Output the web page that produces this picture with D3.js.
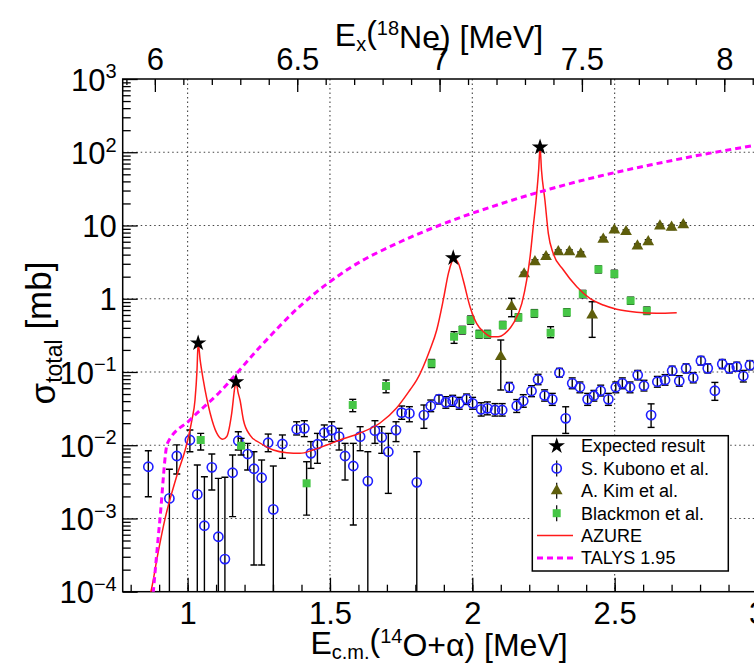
<!DOCTYPE html>
<html>
<head>
<meta charset="utf-8">
<script src="https://cdn.jsdelivr.net/npm/d3@7"></script>
<style>
  body { margin: 0; background: #fff; }
  text { font-family: "Liberation Sans", Arial, Helvetica, sans-serif; fill: #000; }
</style>
</head>
<body>
<div id="chart"></div>
<script>
// values: E_cm in MeV, sigma in mb

// expected result (stars)
var starE = [1.037, 1.170, 1.933, 2.238];
var starS = [0.248, 0.073, 3.6, 117];

// S. Kubono et al. (open circles), lo/hi = error bar ends
var kubonoE = [0.862, 0.936, 0.962, 1.008, 1.034, 1.059, 1.085, 1.108, 1.131, 1.158,
	1.178, 1.211, 1.233, 1.260, 1.283, 1.301, 1.333, 1.383, 1.410, 1.433,
	1.456, 1.480, 1.506, 1.532, 1.553, 1.582, 1.606, 1.633, 1.658, 1.682,
	1.705, 1.732, 1.752, 1.779, 1.805, 1.830, 1.854, 1.883, 1.907, 1.931,
	1.954, 1.980, 2.001, 2.031, 2.053, 2.080, 2.105, 2.130, 2.156, 2.179,
	2.208, 2.231, 2.254, 2.281, 2.306, 2.328, 2.351, 2.378, 2.405, 2.427,
	2.451, 2.478, 2.504, 2.527, 2.554, 2.581, 2.603, 2.628, 2.650, 2.677,
	2.702, 2.727, 2.751, 2.776, 2.803, 2.827, 2.852, 2.878, 2.903, 2.929,
	2.952, 2.975];
var kubonoS = [0.00508, 0.00188, 0.00712, 0.0118, 0.00213, 0.000796, 0.00499, 0.000563, 0.000279, 0.00421,
	0.0115, 0.00758, 0.00477, 0.0036, 0.0108, 0.00133, 0.0104, 0.0165, 0.017, 0.00775,
	0.0103, 0.0148, 0.0161, 0.0131, 0.00712, 0.0052, 0.0131, 0.00324, 0.0158, 0.0128,
	0.00815, 0.0161, 0.0278, 0.0272, 0.00311, 0.0258, 0.0343, 0.0427, 0.0385, 0.0405,
	0.0373, 0.0427, 0.0373, 0.0309, 0.0319, 0.0303, 0.0303, 0.0618, 0.0346, 0.0401,
	0.0549, 0.0788, 0.0477, 0.0423, 0.0977, 0.0233, 0.07, 0.0618, 0.0423, 0.0474,
	0.0554, 0.0423, 0.0618, 0.07, 0.0618, 0.0908, 0.0649, 0.0258, 0.0736, 0.0777,
	0.104, 0.0752, 0.112, 0.0835, 0.1425, 0.112, 0.0554, 0.1285, 0.112, 0.118,
	0.088, 0.124];
var kubonoLo = [0.00198, 1e-5, 0.00404, 0.00815, 1e-5, 1e-5, 0.00245, 1e-5, 1e-5, 0.00106,
	0.0086, 0.00459, 0.000231, 0.000231, 0.00815, 1e-5, 0.00662, 0.0138, 0.0131, 0.00483,
	0.00566, 0.0118, 0.0112, 0.0086, 0.00335, 0.000813, 0.00841, 1e-5, 0.0106, 0.00775,
	0.0022, 0.0112, 0.0226, 0.0209, 1e-5, 0.017, 0.0287, 0.0365, 0.032, 0.034,
	0.031, 0.036, 0.031, 0.025, 0.026, 0.025, 0.025, 0.053, 0.028, 0.033,
	0.046, 0.067, 0.04, 0.035, 0.085, 0.0145, 0.059, 0.052, 0.035, 0.04,
	0.047, 0.035, 0.052, 0.059, 0.052, 0.078, 0.055, 0.0175, 0.062, 0.066,
	0.09, 0.064, 0.097, 0.071, 0.124, 0.097, 0.041, 0.111, 0.097, 0.102,
	0.073, 0.107];
var kubonoHi = [0.00841, 0.00469, 0.0101, 0.0161, 0.00536, 0.00371, 0.00758, 0.00353, 0.00365, 0.00735,
	0.0153, 0.0106, 0.00815, 0.00628, 0.0142, 0.0052, 0.0138, 0.0209, 0.0216, 0.0112,
	0.0145, 0.0189, 0.0209, 0.017, 0.0106, 0.0106, 0.0179, 0.00815, 0.0216, 0.0179,
	0.0145, 0.0209, 0.0343, 0.0336, 0.00815, 0.0354, 0.0414, 0.0484, 0.046, 0.048,
	0.045, 0.05, 0.045, 0.038, 0.039, 0.037, 0.037, 0.072, 0.042, 0.049,
	0.065, 0.093, 0.057, 0.051, 0.112, 0.0335, 0.083, 0.073, 0.051, 0.056,
	0.066, 0.051, 0.073, 0.083, 0.073, 0.105, 0.077, 0.0367, 0.087, 0.092,
	0.12, 0.089, 0.129, 0.098, 0.163, 0.129, 0.072, 0.148, 0.129, 0.136,
	0.105, 0.143];

// A. Kim et al. (triangles)
var kimE = [2.100, 2.138, 2.182, 2.220, 2.259, 2.302, 2.341, 2.381, 2.421, 2.460,
	2.499, 2.540, 2.580, 2.618, 2.659, 2.700, 2.741];
var kimS = [0.1615, 0.778, 2.18, 3.20, 3.75, 4.38, 4.38, 4.08, 0.600, 6.48,
	8.67, 8.22, 5.25, 6.0, 9.84, 9.44, 10.2];
var kimLo = [0.0567, 0.568, 2.05, 3.0, 3.5, 4.1, 4.1, 3.8, 0.297, 6.1,
	8.1, 7.7, 4.9, 5.6, 9.2, 8.8, 9.5];
var kimHi = [0.273, 1.013, 2.3, 3.4, 4.0, 4.65, 4.65, 4.35, 0.91, 6.9,
	9.2, 8.7, 5.6, 6.4, 10.5, 10.1, 10.9];

// Blackmon et al. (squares)
var blackmonE = [1.046, 1.188, 1.418, 1.580, 1.697, 1.857, 1.936, 1.965, 1.994, 2.024,
	2.053, 2.107, 2.162, 2.218, 2.275, 2.332, 2.388, 2.443, 2.499, 2.556, 2.613];
var blackmonS = [0.0118, 0.00984, 0.00302, 0.0354, 0.0643, 0.131, 0.303, 0.374, 0.512, 0.327,
	0.327, 0.437, 0.557, 0.632, 0.343, 0.653, 1.16, 2.52, 2.18, 0.94, 0.686];
var blackmonLo = [0.0086, 0.00735, 0.00111, 0.0287, 0.052, 0.115, 0.246, 0.33, 0.45, 0.29,
	0.29, 0.39, 0.5, 0.56, 0.294, 0.58, 1.03, 2.25, 1.95, 0.84, 0.61];
var blackmonHi = [0.0145, 0.0124, 0.00595, 0.0423, 0.0777, 0.148, 0.355, 0.42, 0.58, 0.37,
	0.37, 0.49, 0.62, 0.71, 0.415, 0.73, 1.3, 2.8, 2.45, 1.05, 0.77];

// AZURE curve
var azureE = [0.862, 0.871, 0.895, 0.921, 0.960, 0.997, 1.015, 1.026, 1.033, 1.037,
	1.044, 1.055, 1.079, 1.102, 1.123, 1.137, 1.155, 1.166, 1.170, 1.177,
	1.184, 1.196, 1.219, 1.254, 1.301, 1.348, 1.395, 1.440, 1.489, 1.535,
	1.606, 1.676, 1.734, 1.781, 1.805, 1.851, 1.875, 1.898, 1.916, 1.928,
	1.933, 1.951, 1.968, 1.992, 2.015, 2.039, 2.068, 2.091, 2.115, 2.144,
	2.174, 2.191, 2.203, 2.214, 2.224, 2.233, 2.238, 2.243, 2.255, 2.267,
	2.284, 2.320, 2.367, 2.413, 2.460, 2.507, 2.577, 2.648, 2.718];
var azureS = [7.5e-5, 1.0e-4, 3.2e-4, 1.0e-3, 3.6e-3, 0.0104, 0.022, 0.0414, 0.106, 0.248,
	0.146, 0.0777, 0.0275, 0.0147, 0.01205, 0.01306, 0.0275, 0.0624, 0.073, 0.0532,
	0.0414, 0.0221, 0.01377, 0.01072, 0.00859, 0.0079, 0.00775, 0.00859, 0.01007, 0.01178,
	0.0147, 0.0201, 0.0322, 0.0567, 0.0777, 0.1995, 0.374, 0.962, 2.22, 3.20,
	3.56, 3.05, 1.80, 0.778, 0.461, 0.355, 0.303, 0.303, 0.337, 0.461,
	0.865, 1.80, 3.75, 9.62, 22.3, 57.2, 117, 57.2, 22.3, 7.82,
	4.17, 2.47, 1.46, 1.01, 0.82, 0.718, 0.653, 0.632, 0.643];

// TALYS 1.95 curve
var talysE = [0.876, 0.903, 0.929, 1.008, 1.114, 1.254, 1.395, 1.570, 1.746, 1.887,
	2.097, 2.273, 2.449, 2.624, 2.800, 3.0];
var talysS = [7e-5, 1.0e-3, 0.0106, 0.0221, 0.0537, 0.219, 0.795, 2.63, 5.95, 10.15,
	19.6, 31.5, 47.4, 66.9, 91.7, 125.6];

// axis ticks
var xMajor = [1, 1.5, 2, 2.5, 3];
var xMinor = d3.range(8, 31).map(d => d / 10);
var exMajor = [6, 6.5, 7, 7.5, 8];
var exMinor = d3.range(59, 82).map(d => d / 10);
var yDecades = [1e-4, 1e-3, 1e-2, 1e-1, 1, 10, 1e2, 1e3];
var yLabels = [["10", "\u22124"], ["10", "\u22123"], ["10", "\u22122"], ["10", "\u22121"],
	["1", ""], ["10", ""], ["10", "2"], ["10", "3"]];
var qValue = 5.115; // Ex(18Ne) = Ecm + Q

var legendNames = ["Expected result", "S. Kubono et al.", "A. Kim et al.", "Blackmon et al.", "AZURE", "TALYS 1.95"];

function drawChart(sel) {
	let width = 754, height = 666;
	let left = 122.7, right = 757, top = 79, bottom = 591.7;

	var svg = d3.select(sel).append("svg")
		.attr("width", width)
		.attr("height", height)
		.attr("viewBox", [0, 0, width, height]);

	var x = d3.scaleLinear().domain([0.772, 3.0]).range([left, right]);
	var xEx = d3.scaleLinear().domain([0.772 + qValue, 3.0 + qValue]).range([left, right]);
	var y = d3.scaleLog().domain([1e-4, 1e3]).range([bottom, top]);

	svg.append("defs").append("clipPath").attr("id", "plotclip")
		.append("rect").attr("x", left).attr("y", top)
		.attr("width", right - left).attr("height", bottom - top);

	// dotted grid
	var grid = svg.append("g").attr("stroke", "#444").attr("stroke-width", 1.1)
		.attr("stroke-dasharray", "1.5,3");
	grid.selectAll(".gx").data(xMajor.filter(d => d < 3)).enter().append("line")
		.attr("x1", d => x(d)).attr("x2", d => x(d)).attr("y1", top).attr("y2", bottom);
	grid.selectAll(".gy").data(yDecades.slice(1, 7)).enter().append("line")
		.attr("y1", d => y(d)).attr("y2", d => y(d)).attr("x1", left).attr("x2", right);

	// axes, ticks point inward like ROOT
	function clean(g) {
		g.select(".domain").remove();
		g.selectAll("line").attr("stroke", "#000").attr("stroke-width", 1.3);
		g.selectAll("text").style("font-size", "31px").attr("fill", "#000");
	}
	svg.append("g").attr("transform", `translate(0,${bottom})`)
		.call(d3.axisBottom(x).tickValues(xMinor).tickSize(-7).tickFormat(""))
		.call(clean);
	svg.append("g").attr("transform", `translate(0,${bottom})`)
		.call(d3.axisBottom(x).tickValues(xMajor).tickSize(-14).tickPadding(10).tickFormat(d3.format("")))
		.call(clean);
	svg.append("g").attr("transform", `translate(0,${top})`)
		.call(d3.axisTop(xEx).tickValues(exMinor).tickSize(-6).tickFormat(""))
		.call(clean);
	svg.append("g").attr("transform", `translate(0,${top})`)
		.call(d3.axisTop(xEx).tickValues(exMajor).tickSize(-13).tickPadding(9).tickFormat(d3.format("")))
		.call(clean);

	var yMinor = [];
	yDecades.slice(0, 7).forEach(function (d) {
		for (let k = 2; k < 10; k++) yMinor.push(d * k);
	});
	svg.append("g").attr("transform", `translate(${left},0)`)
		.call(d3.axisLeft(y).tickValues(yMinor).tickSize(-8).tickFormat(""))
		.call(clean);
	var yAxis = svg.append("g").attr("transform", `translate(${left},0)`)
		.call(d3.axisLeft(y).tickValues(yDecades).tickSize(-15).tickPadding(6).tickFormat(""))
		.call(clean);
	// labels with superscripts
	yAxis.selectAll(".tick text").each(function (d, i) {
		var t = d3.select(this).attr("dy", "0.36em");
		t.append("tspan").text(yLabels[i][0]);
		if (yLabels[i][1] != "") {
			t.append("tspan").attr("dy", "-0.62em").style("font-size", "20px").text(yLabels[i][1]);
		}
	});

	// frame
	svg.append("rect").attr("x", left).attr("y", top)
		.attr("width", right - left).attr("height", bottom - top)
		.attr("fill", "none").attr("stroke", "#000").attr("stroke-width", 1.5);

	var plot = svg.append("g").attr("clip-path", "url(#plotclip)");

	function errorBars(E, S, lo, hi, cls) {
		var g = plot.append("g").attr("class", cls).attr("stroke", "#000").attr("stroke-width", 1.4);
		E.forEach(function (e, i) {
			let px = x(e);
			g.append("line").attr("x1", px).attr("x2", px).attr("y1", y(lo[i])).attr("y2", y(hi[i]));
			g.append("line").attr("x1", px - 3.5).attr("x2", px + 3.5).attr("y1", y(hi[i])).attr("y2", y(hi[i]));
			g.append("line").attr("x1", px - 3.5).attr("x2", px + 3.5).attr("y1", y(lo[i])).attr("y2", y(lo[i]));
		});
	}

	// Kubono
	errorBars(kubonoE, kubonoS, kubonoLo, kubonoHi, "kub-err");
	plot.append("g").selectAll("circle").data(kubonoE).enter().append("circle")
		.attr("cx", d => x(d)).attr("cy", (d, i) => y(kubonoS[i])).attr("r", 4.6)
		.attr("fill", "none").attr("stroke", "#1f1fff").attr("stroke-width", 1.6);

	// Blackmon
	errorBars(blackmonE, blackmonS, blackmonLo, blackmonHi, "bl-err");
	plot.append("g").selectAll("path").data(blackmonE).enter().append("path")
		.attr("d", d3.symbol(d3.symbolSquare, 64))
		.attr("transform", (d, i) => `translate(${x(d)},${y(blackmonS[i])})`)
		.attr("fill", "#46c646");

	// Kim
	errorBars(kimE, kimS, kimLo, kimHi, "kim-err");
	plot.append("g").selectAll("path").data(kimE).enter().append("path")
		.attr("d", d3.symbol(d3.symbolTriangle, 60))
		.attr("transform", (d, i) => `translate(${x(d)},${y(kimS[i])})`)
		.attr("fill", "#5e5e0c");

	// AZURE
	var line = d3.line().curve(d3.curveMonotoneX);
	plot.append("path")
		.attr("d", line(azureE.map((d, i) => [x(d), y(azureS[i])])))
		.attr("fill", "none").attr("stroke", "#ff1a1a").attr("stroke-width", 1.5);

	// TALYS
	plot.append("path")
		.attr("d", line(talysE.map((d, i) => [x(d), y(talysS[i])])))
		.attr("fill", "none").attr("stroke", "#ff00ff").attr("stroke-width", 3)
		.attr("stroke-dasharray", "6,4");

	// stars
	plot.append("g").selectAll("path").data(starE).enter().append("path")
		.attr("d", d3.symbol(d3.symbolStar, 85))
		.attr("transform", (d, i) => `translate(${x(d)},${y(starS[i])})`)
		.attr("fill", "#000");

	// titles
	var t1 = svg.append("text").attr("x", 439).attr("y", 654).attr("text-anchor", "middle").style("font-size", "32px");
	t1.append("tspan").text("E");
	t1.append("tspan").attr("dy", "0.25em").style("font-size", "20px").text("c.m.");
	t1.append("tspan").attr("dy", "-0.25em").text("(");
	t1.append("tspan").attr("dy", "-0.42em").style("font-size", "20px").text("14");
	t1.append("tspan").attr("dy", "0.42em").text("O+\u03b1) [MeV]");

	var t2 = svg.append("text").attr("x", 439).attr("y", 46).attr("text-anchor", "middle").style("font-size", "32px");
	t2.append("tspan").text("E");
	t2.append("tspan").attr("dy", "0.25em").style("font-size", "20px").text("x");
	t2.append("tspan").attr("dy", "-0.25em").text("(");
	t2.append("tspan").attr("dy", "-0.42em").style("font-size", "20px").text("18");
	t2.append("tspan").attr("dy", "0.42em").text("Ne) [MeV]");

	var t3 = svg.append("text").attr("transform", "translate(55,333) rotate(-90)")
		.attr("text-anchor", "middle").style("font-size", "35px");
	t3.append("tspan").text("\u03c3");
	t3.append("tspan").attr("dy", "0.3em").style("font-size", "23px").text("total");
	t3.append("tspan").attr("dy", "-0.3em").text(" [mb]");

	// legend
	let lx = 532.3, ly = 435.7, lw = 196, lh = 135.3;
	var leg = svg.append("g");
	leg.append("rect").attr("x", lx).attr("y", ly).attr("width", lw).attr("height", lh)
		.attr("fill", "#fff").attr("stroke", "#000").attr("stroke-width", 1.5);
	let rowY = legendNames.map((d, i) => 446 + i * 22.4);
	let mx = 556.7;
	leg.selectAll("text").data(legendNames).enter().append("text")
		.attr("x", 581).attr("y", (d, i) => rowY[i]).attr("dy", "0.35em")
		.style("font-size", "18px").text(d => d);
	leg.append("path").attr("d", d3.symbol(d3.symbolStar, 85))
		.attr("transform", `translate(${mx},${rowY[0]})`);
	[1, 2, 3].forEach(function (i) {
		leg.append("line").attr("x1", mx).attr("x2", mx).attr("y1", rowY[i] - 8).attr("y2", rowY[i] + 8)
			.attr("stroke", "#000").attr("stroke-width", 1.2);
	});
	leg.append("circle").attr("cx", mx).attr("cy", rowY[1]).attr("r", 4.6)
		.attr("fill", "none").attr("stroke", "#1f1fff").attr("stroke-width", 1.6);
	leg.append("path").attr("d", d3.symbol(d3.symbolTriangle, 60))
		.attr("transform", `translate(${mx},${rowY[2]})`).attr("fill", "#5e5e0c");
	leg.append("path").attr("d", d3.symbol(d3.symbolSquare, 64))
		.attr("transform", `translate(${mx},${rowY[3]})`).attr("fill", "#46c646");
	leg.append("line").attr("x1", 537).attr("x2", 573).attr("y1", rowY[4]).attr("y2", rowY[4])
		.attr("stroke", "#ff1a1a").attr("stroke-width", 1.5);
	leg.append("line").attr("x1", 537).attr("x2", 573).attr("y1", rowY[5]).attr("y2", rowY[5])
		.attr("stroke", "#ff00ff").attr("stroke-width", 3).attr("stroke-dasharray", "6,4");
}

drawChart("#chart");
</script>
</body>
</html>
